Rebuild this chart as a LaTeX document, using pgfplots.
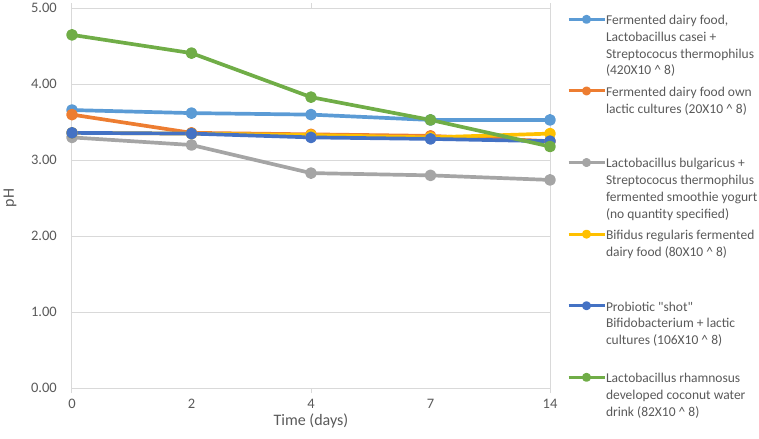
\documentclass[border=0pt]{standalone}
\usepackage{fontspec}
\setmainfont{Carlito}
\usepackage{pgfplots}
\pgfplotsset{compat=1.18}
\definecolor{s1}{HTML}{5B9BD5}
\definecolor{s2}{HTML}{ED7D31}
\definecolor{s3}{HTML}{A5A5A5}
\definecolor{s4}{HTML}{FFC000}
\definecolor{s5}{HTML}{4472C4}
\definecolor{s6}{HTML}{70AD47}
\definecolor{txt}{HTML}{595959}
\definecolor{grid}{HTML}{D9D9D9}
\newcommand{\lentry}[1]{\fontsize{13.5bp}{16.7bp}\selectfont\rule[-2bp]{0pt}{12bp}\smash{\parbox[t]{160bp}{\raggedright\fontsize{13.5bp}{16.7bp}\selectfont\strut #1}}}
\begin{document}
\begin{tikzpicture}
\path[use as bounding box] (-72bp,-51bp) rectangle (687bp,388bp);
\begin{axis}[
  at={(0,0)}, anchor=south west,
  scale only axis, width=478bp, height=379.7bp,
  xmin=0, xmax=4, ymin=0, ymax=5,
  xtick={0,1,2,3,4}, xticklabels={0,2,4,7,14},
  ytick={0,1,2,3,4,5},
  major tick length=0pt,
  extra x ticks={0,2,4}, extra x tick labels={},
  extra x tick style={major tick length=5bp, tick align=outside, tick style={draw=grid, line width=1bp}},
  ymajorgrids, grid style={draw=grid, line width=1bp},
  axis line style={draw=grid, line width=1bp},
  clip=false,
  /pgf/number format/assume math mode=true,
  yticklabel={\pgfmathprintnumber[fixed,fixed zerofill,precision=2]{\tick}},
  ticklabel style={font=\fontsize{14.5bp}{17bp}\selectfont, text=txt, inner sep=0pt},
  xticklabel style={yshift=-10.5bp},
  yticklabel style={xshift=-15bp},
  xlabel={Time (days)}, ylabel={pH},
  label style={font=\fontsize{16bp}{19bp}\selectfont, text=txt},
  x label style={at={(axis description cs:0.5,0)}, anchor=center, yshift=-32.5bp},
  y label style={at={(axis description cs:-0.1297,0.5)}, anchor=center},
  every axis plot/.append style={line width=3.7bp, mark=*, mark size=4bp, line join=round, line cap=round},
  legend image code/.code={
    \draw[#1, mark size=3bp, line width=3bp, line cap=butt, mark repeat=2, mark phase=2] plot coordinates {(0bp,5.4bp) (18bp,5.4bp) (36bp,5.4bp)};
  },
  legend style={at={(axis description cs:1.0356,0.983)}, anchor=north west, draw=none, fill=none, inner sep=0pt, outer sep=0pt, row sep=60.1bp, column sep=0pt, text=txt,
    cells={anchor=base west}, nodes={inner sep=0pt, outer sep=0pt}},
]
\addplot[color=s1] coordinates {(0,3.66) (1,3.62) (2,3.60) (3,3.53) (4,3.53)};
\addlegendentry{\lentry{Fermented dairy food,\newline Lactobacillus casei +\newline Streptococus thermophilus\newline (420X10 \textasciicircum{} 8)}}
\addplot[color=s2] coordinates {(0,3.60) (1,3.36) (2,3.34) (3,3.32) (4,3.25)};
\addlegendentry{\lentry{Fermented dairy food own\newline lactic cultures (20X10 \textasciicircum{} 8)}}
\addplot[color=s3] coordinates {(0,3.30) (1,3.20) (2,2.83) (3,2.80) (4,2.74)};
\addlegendentry{\lentry{Lactobacillus bulgaricus +\newline Streptococus thermophilus\newline fermented smoothie yogurt\newline (no quantity specified)}}
\addplot[color=s4] coordinates {(0,3.36) (1,3.35) (2,3.33) (3,3.30) (4,3.35)};
\addlegendentry{\lentry{Bifidus regularis fermented\newline dairy food (80X10 \textasciicircum{} 8)}}
\addplot[color=s5] coordinates {(0,3.36) (1,3.35) (2,3.30) (3,3.28) (4,3.25)};
\addlegendentry{\lentry{Probiotic \textquotedbl shot\textquotedbl\newline Bifidobacterium + lactic\newline cultures (106X10 \textasciicircum{} 8)}}
\addplot[color=s6] coordinates {(0,4.65) (1,4.41) (2,3.83) (3,3.53) (4,3.18)};
\addlegendentry{\lentry{Lactobacillus rhamnosus\newline developed coconut water\newline drink (82X10 \textasciicircum{} 8)}}
\end{axis}
\end{tikzpicture}
\end{document}
